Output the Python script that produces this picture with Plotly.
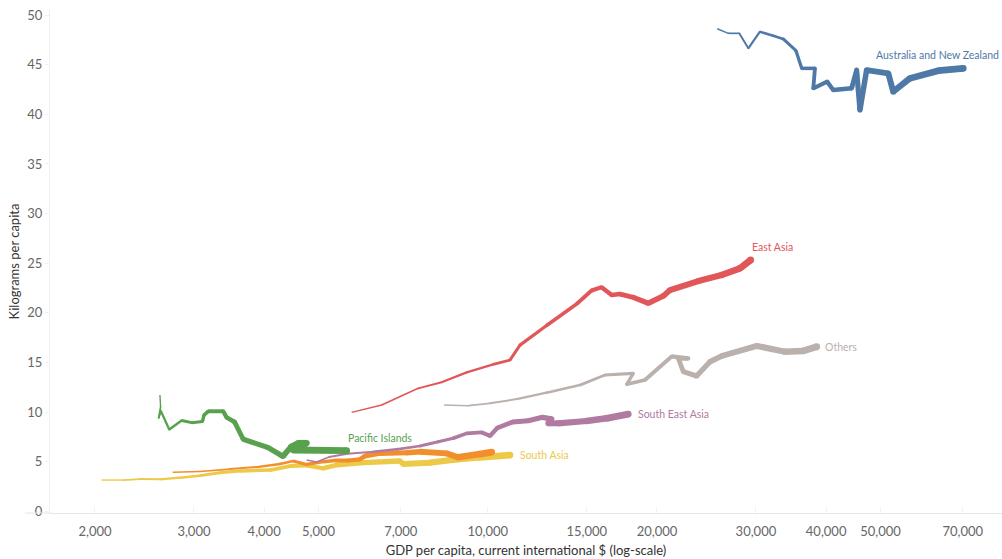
import numpy as np
import plotly.graph_objects as go

# GDP per capita (current international $) and kilograms per capita, by region over time
aus_nz_gdp = [25600, 26790, 28020, 29080, 30500, 32200, 33550, 35350, 36190, 38210, 37950,
              40180, 41180, 44400, 45320, 45940, 47220, 51590, 52660, 56390, 63320, 70150]
aus_nz_kg = [48.62, 48.16, 48.16, 46.65, 48.32, 47.92, 47.59, 46.41, 44.63, 44.63, 42.62,
             43.29, 42.45, 42.62, 44.46, 40.44, 44.46, 44.13, 42.28, 43.63, 44.39, 44.63]

east_asia_gdp = [5725, 6475, 7520, 8277, 9172, 10225, 10950, 11410, 12725, 14390, 15300,
                 15940, 16610, 17190, 18150, 19300, 20520, 21090, 23690, 26070, 28100, 29360]
east_asia_kg = [9.97, 10.71, 12.39, 13.0, 14.0, 14.81, 15.24, 16.75, 18.72, 20.89, 22.25,
                22.57, 21.79, 21.89, 21.56, 20.96, 21.69, 22.29, 23.2, 23.81, 24.48, 25.32]

others_gdp = [8356, 9232, 10088, 11258, 12725, 14590, 16160, 18150, 17670, 19040, 21240,
              22740, 21830, 22280, 23530, 24850, 26070, 30120, 33790, 36370, 38480]
others_kg = [10.71, 10.64, 10.88, 11.31, 11.95, 12.72, 13.73, 13.9, 12.8, 13.23, 15.6,
             15.4, 15.4, 14.07, 13.63, 15.07, 15.65, 16.66, 16.08, 16.15, 16.58]

sea_gdp = [4761, 4960, 5217, 5627, 6256, 6883, 7572, 8163, 8678, 9172, 9752,
           10088, 10404, 11066, 11803, 12511, 12990, 12810, 13350, 14990, 16270, 17780]
sea_kg = [5.17, 4.97, 5.47, 5.8, 6.0, 6.25, 6.58, 7.01, 7.36, 7.86, 7.96,
          7.59, 8.41, 9.0, 9.13, 9.47, 9.3, 8.87, 8.87, 9.1, 9.37, 9.8]

pacific_gdp = [2610, 2617, 2596, 2620, 2711, 2853, 2972, 3107, 3126, 3181, 3382,
               3430, 3541, 3671, 4063, 4320, 4465, 4600, 4761, 4506, 5609]
pacific_kg = [11.72, 10.51, 9.4, 10.11, 8.24, 9.15, 8.93, 9.05, 9.7, 10.08, 10.08,
              9.45, 9.03, 7.26, 6.43, 5.54, 6.51, 6.88, 6.88, 6.18, 6.11]

south_asia_gdp = [2055, 2246, 2405, 2610, 2833, 3075, 3337, 3622, 4097, 4446,
                  4761, 5096, 5384, 6003, 6977, 7072, 7889, 8803, 9683, 10950]
south_asia_kg = [3.15, 3.15, 3.25, 3.22, 3.39, 3.59, 3.89, 4.06, 4.16, 4.56,
                 4.63, 4.33, 4.67, 4.9, 5.07, 4.77, 4.9, 5.24, 5.44, 5.67]

orange_gdp = [2750, 3075, 3477, 3879, 4268, 4506, 4761, 5096, 5346, 5638,
              5922, 6045, 6429, 7171, 7572, 8451, 8861, 9683, 10160]
orange_kg = [3.93, 4.01, 4.26, 4.46, 4.77, 5.07, 4.72, 5.0, 5.12, 5.12,
             5.24, 5.57, 5.84, 5.9, 6.0, 5.84, 5.44, 5.77, 5.97]

x_ticks = [2000, 3000, 4000, 5000, 7000, 10000, 15000, 20000, 30000, 40000, 50000, 70000]
y_ticks = [0, 5, 10, 15, 20, 25, 30, 35, 40, 45, 50]

# (name, colour, x, y, label offset in px from the last point, or None for no label)
series = [
    ("South Asia", "#edc948", south_asia_gdp, south_asia_kg, (8, 0)),
    ("Unlabelled", "#f28e2b", orange_gdp, orange_kg, None),
    ("South East Asia", "#b07aa1", sea_gdp, sea_kg, (8, 0)),
    ("Others", "#bab0ac", others_gdp, others_kg, (6, 0)),
    ("East Asia", "#e15759", east_asia_gdp, east_asia_kg, (-1, 13)),
    ("Pacific Islands", "#59a14f", pacific_gdp, pacific_kg, (-1, 13)),
    ("Australia and New Zealand", "#4e79a7", aus_nz_gdp, aus_nz_kg, (-89, 13)),
]

fig = go.Figure()
annotations = []
for name, color, xs, ys, offset in series:
    n = len(xs)
    # line gets thicker as time goes on
    widths = np.linspace(1.4, 6.8, n - 1)
    for i in range(n - 1):
        fig.add_trace(go.Scatter(
            x=xs[i:i + 2], y=ys[i:i + 2], mode="lines",
            line=dict(color=color, width=float(widths[i])),
            hoverinfo="skip", showlegend=False, name=name,
        ))
    # round joins and end cap
    fig.add_trace(go.Scatter(
        x=xs[1:], y=ys[1:], mode="markers", opacity=1,
        marker=dict(color=color, size=list(widths), opacity=1, line=dict(width=0)),
        hoverinfo="skip", showlegend=False, name=name,
    ))
    if offset is not None:
        annotations.append(dict(
            x=np.log10(xs[-1]), y=ys[-1], xref="x", yref="y",
            text=name, showarrow=False, xanchor="left", yanchor="middle",
            xshift=offset[0], yshift=offset[1],
            font=dict(family="Lato", size=10.5, color=color),
        ))

fig.update_layout(
    width=1002, height=559,
    margin=dict(l=50, r=0, t=10, b=46),
    paper_bgcolor="white", plot_bgcolor="white",
    font=dict(family="Lato", size=13, color="#666666"),
    annotations=annotations,
    showlegend=False,
)
fig.update_xaxes(
    type="log", range=[3.221, 4.915],
    tickvals=x_ticks, ticktext=[f"{v:,}" for v in x_ticks],
    showgrid=False, zeroline=False,
    showline=True, linecolor="#e6e6e6", linewidth=1,
    ticks="inside", ticklen=6, tickcolor="#f0f0f0",
    ticklabelstandoff=6,
    tickfont=dict(family="Lato", size=13, color="#666666"),
    title=dict(text="GDP per capita, current international $ (log-scale)",
               font=dict(family="Lato", size=13, color="#333333"), standoff=8),
)
fig.update_yaxes(
    range=[-0.17, 50.51], tickvals=y_ticks,
    showgrid=False, zeroline=False,
    showline=True, linecolor="#f0f0f0", linewidth=1,
    ticks="outside", ticklen=4, tickcolor="#f0f0f0",
    tickfont=dict(family="Lato", size=13, color="#666666"),
    title=dict(text="Kilograms per capita",
               font=dict(family="Lato", size=13, color="#333333"), standoff=4),
)
# extend the baseline a little to the left of the value axis
fig.add_shape(type="line", xref="paper", yref="paper", x0=-25 / 952, x1=0, y0=0, y1=0,
              line=dict(color="#e6e6e6", width=1))

fig.write_html("out.html")
